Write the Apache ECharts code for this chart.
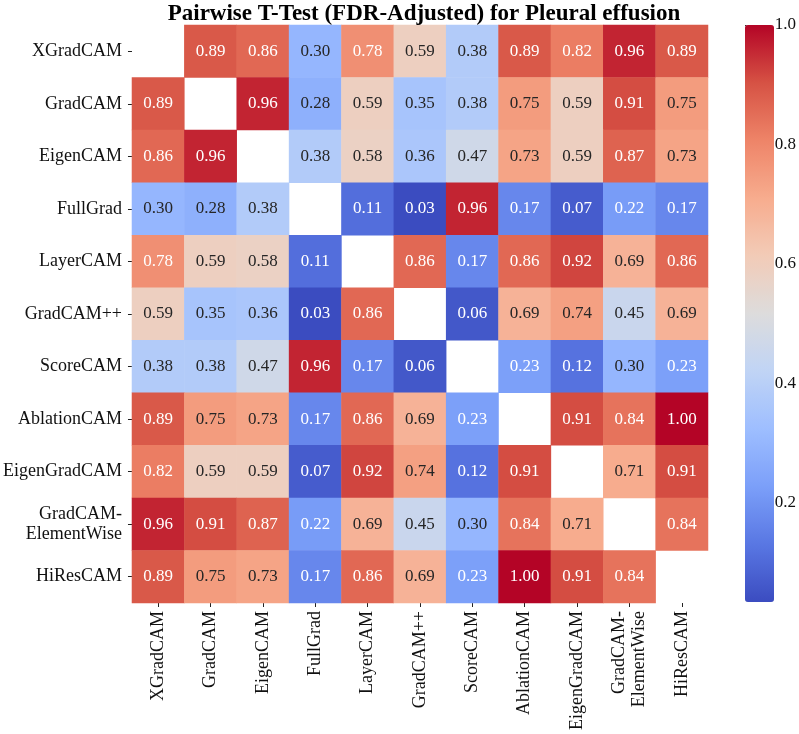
<!DOCTYPE html>
<html>
<head>
<meta charset="utf-8">
<script src="https://cdn.jsdelivr.net/npm/echarts@6/dist/echarts.min.js"></script>
<style>
  html, body { margin: 0; padding: 0; background: #fff; }
  #chart { width: 799px; height: 734px; }
</style>
</head>
<body>
<div id="chart"></div>
<script>
// method names, same order on both axes
const methods = ['XGradCAM', 'GradCAM', 'EigenCAM', 'FullGrad', 'LayerCAM', 'GradCAM++',
  'ScoreCAM', 'AblationCAM', 'EigenGradCAM', 'GradCAM-\nElementWise', 'HiResCAM']

// FDR adjusted p-values, null = diagonal (left blank)
const rowXGradCAM     = [null, 0.89, 0.86, 0.30, 0.78, 0.59, 0.38, 0.89, 0.82, 0.96, 0.89]
const rowGradCAM      = [0.89, null, 0.96, 0.28, 0.59, 0.35, 0.38, 0.75, 0.59, 0.91, 0.75]
const rowEigenCAM     = [0.86, 0.96, null, 0.38, 0.58, 0.36, 0.47, 0.73, 0.59, 0.87, 0.73]
const rowFullGrad     = [0.30, 0.28, 0.38, null, 0.11, 0.034, 0.96, 0.17, 0.07, 0.22, 0.17]
const rowLayerCAM     = [0.78, 0.59, 0.58, 0.11, null, 0.86, 0.17, 0.86, 0.92, 0.69, 0.86]
const rowGradCAMpp    = [0.59, 0.35, 0.36, 0.034, 0.86, null, 0.06, 0.69, 0.74, 0.45, 0.69]
const rowScoreCAM     = [0.38, 0.38, 0.47, 0.96, 0.17, 0.06, null, 0.23, 0.12, 0.30, 0.23]
const rowAblationCAM  = [0.89, 0.75, 0.73, 0.17, 0.86, 0.69, 0.23, null, 0.91, 0.84, 1.00]
const rowEigenGradCAM = [0.82, 0.59, 0.59, 0.07, 0.92, 0.74, 0.12, 0.91, null, 0.71, 0.91]
const rowElementWise  = [0.96, 0.91, 0.87, 0.22, 0.69, 0.45, 0.30, 0.84, 0.71, null, 0.84]
const rowHiResCAM     = [0.89, 0.75, 0.73, 0.17, 0.86, 0.69, 0.23, 1.00, 0.91, 0.84, null]

const rows = [rowXGradCAM, rowGradCAM, rowEigenCAM, rowFullGrad, rowLayerCAM, rowGradCAMpp,
  rowScoreCAM, rowAblationCAM, rowEigenGradCAM, rowElementWise, rowHiResCAM]

const colorbarTicks = [0.2, 0.4, 0.6, 0.8, 1.0]

// matplotlib coolwarm
const coolwarm = ['#3b4cc0', '#5977e3', '#7b9ff9', '#9ebeff', '#c0d4f5', '#dddcdc',
  '#f2cbb7', '#f7ac8e', '#ee8468', '#d65244', '#b40426']

const font = 'Liberation Serif'
const vmin = 0.034
const vmax = 1.0

const cells = []
rows.forEach((row, i) => {
  row.forEach((v, j) => {
    if (v === null) return
    const light = v >= 0.77 || v <= 0.25
    cells.push({ value: [j, i, v], label: { color: light ? '#ffffff' : '#262626' } })
  })
})

const chart = echarts.init(document.getElementById('chart'))
const option = {
  backgroundColor: '#fff',
  animation: false,
  title: {
    text: 'Pairwise T-Test (FDR-Adjusted) for Pleural effusion',
    left: 419,
    textAlign: 'center',
    top: -2,
    textStyle: { fontFamily: font, fontWeight: 'bold', fontSize: 23, color: '#000' },
  },
  grid: [
    { left: 130, top: 25, width: 578, height: 578 },
    { left: 745, top: 25, width: 29, height: 577 },
  ],
  xAxis: [
    {
      type: 'category',
      gridIndex: 0,
      data: methods,
      position: 'bottom',
      splitArea: { show: false },
      axisLine: { show: false },
      axisTick: { show: true, length: 4, lineStyle: { color: '#222' }, alignWithLabel: true },
      axisLabel: {
        rotate: 90, margin: 8, interval: 0,
        fontFamily: font, fontSize: 18, color: '#111', lineHeight: 20,
      },
    },
    { type: 'value', gridIndex: 1, show: false, min: 0, max: 1 },
  ],
  yAxis: [
    {
      type: 'category',
      gridIndex: 0,
      data: methods,
      inverse: true,
      splitArea: { show: false },
      axisLine: { show: false },
      axisTick: { show: true, length: 4, lineStyle: { color: '#222' }, alignWithLabel: true },
      axisLabel: {
        margin: 10, interval: 0,
        fontFamily: font, fontSize: 18, color: '#111', lineHeight: 20,
      },
    },
    {
      type: 'value',
      gridIndex: 1,
      position: 'right',
      min: vmin,
      max: vmax,
      splitLine: { show: false },
      axisLine: { show: false },
      axisTick: { show: true, length: 4, lineStyle: { color: '#222' }, customValues: colorbarTicks },
      axisLabel: {
        margin: 9, fontFamily: font, fontSize: 17, color: '#111',
        customValues: colorbarTicks,
        formatter: (v) => v.toFixed(1),
      },
    },
  ],
  visualMap: {
    type: 'continuous',
    min: vmin,
    max: vmax,
    calculable: false,
    orient: 'vertical',
    left: 745,
    top: 25,
    itemWidth: 29,
    itemHeight: 577,
    padding: 0,
    text: ['', ''],
    showLabel: false,
    seriesIndex: 0,
    inRange: { color: coolwarm },
  },
  series: [
    {
      type: 'heatmap',
      xAxisIndex: 0,
      yAxisIndex: 0,
      data: cells,
      label: {
        show: true,
        fontFamily: font,
        fontSize: 17,
        formatter: (p) => p.value[2].toFixed(2),
      },
      itemStyle: { borderWidth: 0 },
      emphasis: { disabled: true },
    },
  ],
}
chart.setOption(option)
</script>
</body>
</html>
